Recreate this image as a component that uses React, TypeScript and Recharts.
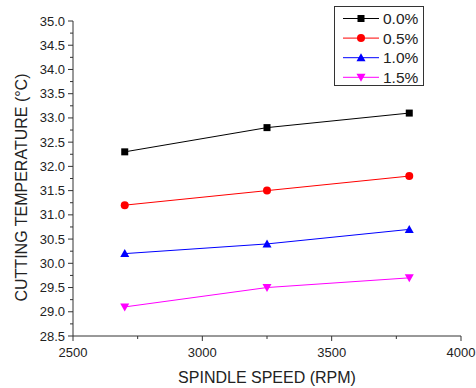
import { LineChart, Line, XAxis, YAxis, Legend, Label } from "recharts";

const speeds = [2700, 3250, 3800];
const temp00 = [32.3, 32.8, 33.1];
const temp05 = [31.2, 31.5, 31.8];
const temp10 = [30.2, 30.4, 30.7];
const temp15 = [29.1, 29.5, 29.7];

const xTicks = [2500, 2750, 3000, 3250, 3500, 3750, 4000];
const yTicks = [
  28.5, 28.75, 29.0, 29.25, 29.5, 29.75, 30.0, 30.25, 30.5, 30.75, 31.0,
  31.25, 31.5, 31.75, 32.0, 32.25, 32.5, 32.75, 33.0, 33.25, 33.5, 33.75,
  34.0, 34.25, 34.5, 34.75, 35.0,
];

const series = [
  { key: "c00", label: "0.0%", color: "#000000", shape: "square", values: temp00 },
  { key: "c05", label: "0.5%", color: "#ff0000", shape: "circle", values: temp05 },
  { key: "c10", label: "1.0%", color: "#0000ff", shape: "up", values: temp10 },
  { key: "c15", label: "1.5%", color: "#ff00ff", shape: "down", values: temp15 },
];

const data = speeds.map((s, i) => {
  const row: Record<string, number> = { speed: s };
  series.forEach((sr) => (row[sr.key] = sr.values[i]));
  return row;
});

const FONT = "'Liberation Sans', Arial, sans-serif";
const AXIS = "#333333";
const TEXT = "#222222";

function Marker({ cx, cy, shape, color }: { cx: number; cy: number; shape: string; color: string }) {
  if (cx == null || cy == null) return null;
  if (shape === "square")
    return <rect x={cx - 3.5} y={cy - 3.5} width={7} height={7} fill={color} />;
  if (shape === "circle") return <circle cx={cx} cy={cy} r={4} fill={color} />;
  if (shape === "up")
    return <polygon points={`${cx},${cy - 4.5} ${cx + 4.5},${cy + 3.5} ${cx - 4.5},${cy + 3.5}`} fill={color} />;
  return <polygon points={`${cx},${cy + 4.5} ${cx + 4.5},${cy - 3.5} ${cx - 4.5},${cy - 3.5}`} fill={color} />;
}

const isMajor = (v: number, step: number) => Math.abs(v / step - Math.round(v / step)) < 1e-6;

function YTick(props: any) {
  const { x, y, payload } = props;
  const v = payload.value as number;
  const major = isMajor(v, 0.5);
  const ax = x + 8;
  return (
    <g>
      <line x1={ax} x2={ax - (major ? 5 : 3)} y1={y} y2={y} stroke={AXIS} />
      {major && (
        <text x={x} y={y} dy={4.5} textAnchor="end" fill={TEXT} fontSize={13} fontFamily={FONT}>
          {v.toFixed(1)}
        </text>
      )}
    </g>
  );
}

function XTick(props: any) {
  const { x, y, payload } = props;
  const v = payload.value as number;
  const major = isMajor(v, 500);
  const ay = y - 8;
  return (
    <g>
      <line x1={x} x2={x} y1={ay} y2={ay + (major ? 5 : 3)} stroke={AXIS} />
      {major && (
        <text x={x} y={y} dy={12.5} textAnchor="middle" fill={TEXT} fontSize={13} fontFamily={FONT}>
          {v}
        </text>
      )}
    </g>
  );
}

function LegendBox() {
  return (
    <div
      style={{
        width: 88,
        height: 78,
        border: "1px solid #333",
        background: "#fff",
        boxSizing: "content-box",
        position: "relative",
      }}
    >
      <svg width={88} height={78} style={{ display: "block", overflow: "visible" }}>
        {series.map((s, i) => {
          const cy = 11.5 + i * 19.6;
          return (
            <g key={s.key}>
              <line x1={8} x2={44} y1={cy} y2={cy} stroke={s.color} strokeWidth={1} />
              <Marker cx={26} cy={cy} shape={s.shape} color={s.color} />
              <text x={48} y={cy} dy={5.5} fontSize={15.5} fill={TEXT} fontFamily={FONT}>
                {s.label}
              </text>
            </g>
          );
        })}
      </svg>
    </div>
  );
}

export default function App() {
  return (
    <div style={{ position: "absolute", left: 0, top: 0, background: "#fff" }}>
      <LineChart width={476} height={388} data={data} margin={{ top: 21, right: 15, left: 0, bottom: 0 }}>
        <XAxis
          dataKey="speed"
          type="number"
          domain={[2500, 4000]}
          ticks={xTicks}
          interval={0}
          height={52}
          tickSize={5}
          tickMargin={3}
          tickLine={{ stroke: "transparent" }}
          axisLine={{ stroke: AXIS }}
          tick={<XTick />}
        >
          <Label
            content={({ viewBox }: any) => (
              <text
                x={viewBox.x + viewBox.width / 2}
                y={viewBox.y + 47}
                textAnchor="middle"
                fontSize={16}
                fill={TEXT}
                fontFamily={FONT}
              >
                SPINDLE SPEED (RPM)
              </text>
            )}
          />
        </XAxis>
        <YAxis
          type="number"
          domain={[28.5, 35]}
          ticks={yTicks}
          interval={0}
          width={73}
          tickSize={5}
          tickMargin={3}
          tickLine={{ stroke: "transparent" }}
          axisLine={{ stroke: AXIS }}
          tick={<YTick />}
        >
          <Label
            content={({ viewBox }: any) => {
              const cx = viewBox.x + 21;
              const cy = viewBox.y + viewBox.height / 2 + 9;
              return (
                <text
                  x={cx}
                  y={cy}
                  dy={5.5}
                  transform={`rotate(-90 ${cx} ${cy})`}
                  textAnchor="middle"
                  fontSize={16}
                  fill={TEXT}
                  fontFamily={FONT}
                >
                  CUTTING TEMPERATURE (°C)
                </text>
              );
            }}
          />
        </YAxis>
        <Legend
          layout="horizontal"
          verticalAlign="middle"
          align="center"
          wrapperStyle={{ position: "absolute", top: 6, left: 334, width: "auto" }}
          content={() => <LegendBox />}
        />
        {series.map((s) => (
          <Line
            key={s.key}
            dataKey={s.key}
            name={s.label}
            stroke={s.color}
            strokeWidth={1}
            isAnimationActive={false}
            dot={(p: any) => <Marker key={`${s.key}-${p.index}`} cx={p.cx} cy={p.cy} shape={s.shape} color={s.color} />}
            activeDot={false}
          />
        ))}
      </LineChart>
    </div>
  );
}
